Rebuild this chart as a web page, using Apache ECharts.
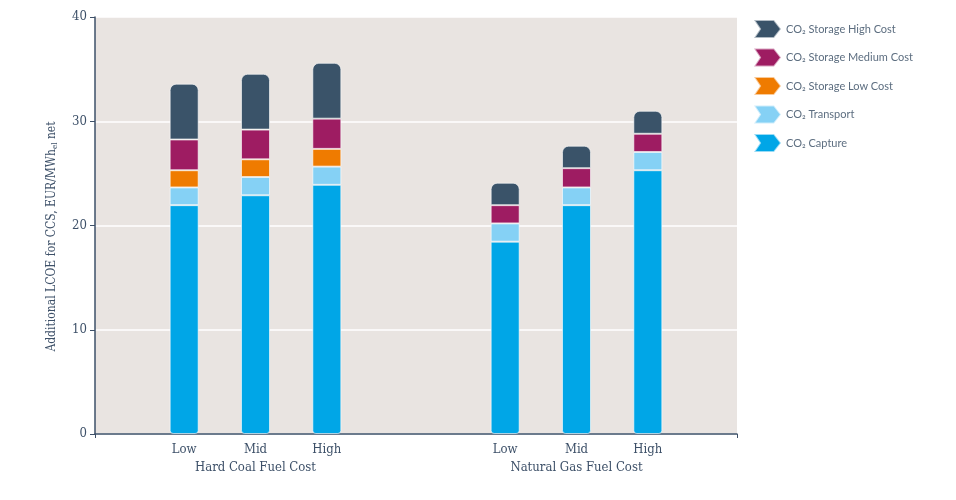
<!DOCTYPE html>
<html>
<head>
<meta charset="utf-8">
<script src="https://cdn.jsdelivr.net/npm/echarts@6/dist/echarts.min.js"></script>
<style>
  html, body { margin: 0; padding: 0; background: #fff; }
  #chart { width: 956px; height: 500px; }
</style>
</head>
<body>
<div id="chart"></div>
<script>
// bar labels and the slot (of 18) each bar sits in
const categories = ['Low', 'Mid', 'High', 'Low', 'Mid', 'High'];
const slots = [2, 4, 6, 11, 13, 15];
const groups = ['Hard Coal Fuel Cost', 'Natural Gas Fuel Cost'];
const groupSlots = [4, 13];

// stacked segments, EUR/MWh_el net
const capture = [21.95, 22.9, 23.9, 18.45, 21.95, 25.3];
const transport = [1.7, 1.75, 1.75, 1.75, 1.7, 1.75];
const storageLow = [1.65, 1.7, 1.7, null, null, null];
const storageMedium = [2.95, 2.85, 2.9, 1.75, 1.85, 1.75];
const storageHigh = [5.35, 5.35, 5.35, 2.15, 2.15, 2.2];

const yTicks = [0, 10, 20, 30, 40];

const axisFont = "'DejaVu Serif Condensed', 'Liberation Serif', serif";
const ink = '#3d5068';
const nSlots = 18;

function spread(values) {
    const out = new Array(nSlots).fill(null);
    slots.forEach((s, i) => { out[s] = values[i]; });
    return out;
}

const tickLabels = new Array(nSlots).fill('');
slots.forEach((s, i) => { tickLabels[s] = categories[i]; });
const groupLabels = new Array(nSlots).fill('');
groupSlots.forEach((s, i) => { groupLabels[s] = groups[i]; });

const chevron = 'path://M0,0 L20,0 L27,9 L20,18 L0,18 L6,9 Z';

function seg(name, color, values, radius) {
    return {
        name: name,
        type: 'bar',
        stack: 'total',
        barWidth: 29,
        data: spread(values),
        itemStyle: {
            color: color,
            borderColor: 'rgba(255,255,255,0.6)',
            borderWidth: 1,
            borderRadius: radius || 0
        }
    };
}

const chart = echarts.init(document.getElementById('chart'));
chart.setOption({
    animation: false,
    backgroundColor: '#ffffff',
    grid: {
        left: 95, right: 219, top: 17, bottom: 66,
        show: true, backgroundColor: '#e9e4e1', borderWidth: 0
    },
    legend: {
        orient: 'vertical',
        left: 753, top: 19,
        padding: 0,
        itemWidth: 27, itemHeight: 18, itemGap: 8.5,
        icon: chevron,
        data: ['CO₂ Storage High Cost', 'CO₂ Storage Medium Cost', 'CO₂ Storage Low Cost', 'CO₂ Transport', 'CO₂ Capture'],
        textStyle: { fontFamily: 'Lato, sans-serif', fontSize: 11, color: '#5d6e80', lineHeight: 14 }
    },
    xAxis: [{
        type: 'category',
        data: tickLabels,
        axisLine: { lineStyle: { color: ink, width: 1.5 } },
        axisTick: { show: true, length: 4, lineStyle: { color: ink }, interval: (i) => i === 0 || i === nSlots },
        axisLabel: { interval: 0, color: ink, fontFamily: axisFont, fontSize: 13, margin: 9 }
    }, {
        type: 'category',
        data: groupLabels,
        position: 'bottom',
        offset: 18,
        axisLine: { show: false },
        axisTick: { show: false },
        axisLabel: { interval: 0, color: ink, fontFamily: axisFont, fontSize: 13, margin: 9 }
    }],
    yAxis: {
        type: 'value',
        min: yTicks[0], max: yTicks[yTicks.length - 1], interval: 10,
        name: 'Additional LCOE for CCS, EUR/MWh{sub|el} net',
        nameLocation: 'middle',
        nameGap: 36,
        nameTextStyle: {
            color: ink, fontFamily: axisFont, fontSize: 12,
            padding: [0, 22, 0, 0],
            rich: { sub: { fontSize: 8, color: ink, fontFamily: axisFont, padding: [6, 0, 0, 0] } }
        },
        axisLine: { show: true, lineStyle: { color: ink, width: 1.5 } },
        axisTick: { show: true, length: 5, lineStyle: { color: ink } },
        axisLabel: { color: ink, fontFamily: axisFont, fontSize: 13, margin: 8 },
        splitLine: { lineStyle: { color: '#ffffff', width: 1.5 } }
    },
    series: [
        seg('CO₂ Capture', '#00a6e7', capture, [0, 0, 3, 3]),
        seg('CO₂ Transport', '#85d1f5', transport),
        seg('CO₂ Storage Low Cost', '#ef7b00', storageLow),
        seg('CO₂ Storage Medium Cost', '#9e1c62', storageMedium),
        seg('CO₂ Storage High Cost', '#3a5369', storageHigh, [6, 6, 0, 0])
    ]
});
</script>
</body>
</html>
